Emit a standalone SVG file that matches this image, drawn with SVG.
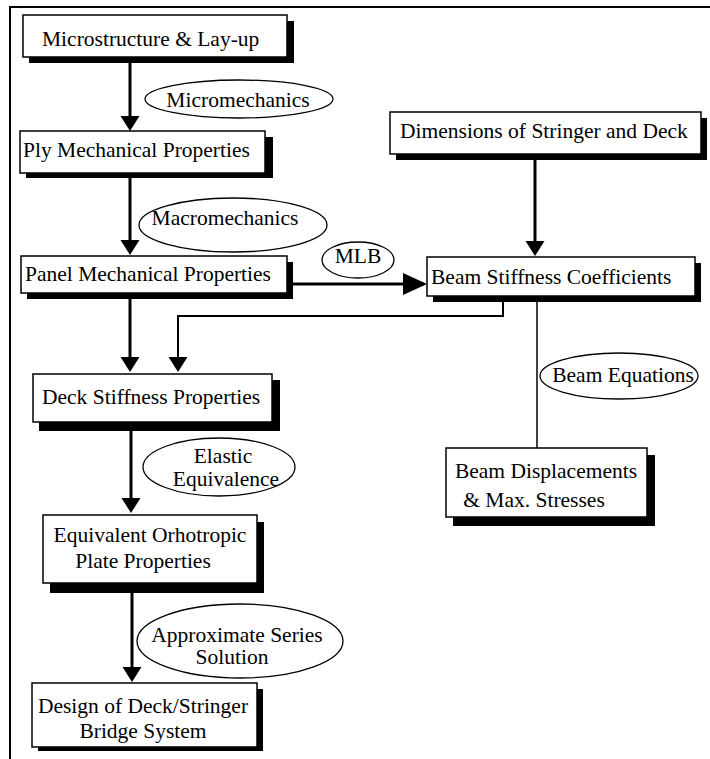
<svg xmlns="http://www.w3.org/2000/svg" width="710" height="759" viewBox="0 0 710 759">
<style>
.bg{fill:#fff}
.sh{fill:#000}
.bx{fill:#fff;stroke:#000;stroke-width:1.5}
.el{fill:#fff;stroke:#000;stroke-width:1.3}
text{font-family:'Liberation Serif','DejaVu Serif',serif;font-size:21.5px;fill:#000}
.c{text-anchor:middle}
.ln{fill:none;stroke:#000;stroke-width:3}
.thin{fill:none;stroke:#000;stroke-width:2}
</style>
<defs>
<marker id="ah" markerUnits="userSpaceOnUse" markerWidth="16" markerHeight="20" refX="12" refY="9.5" orient="auto">
<path d="M0,0 L15,9.5 L0,19 z" fill="#000"/>
</marker>
<marker id="ahb" markerUnits="userSpaceOnUse" markerWidth="25" markerHeight="24" refX="21" refY="11" orient="auto">
<path d="M0,0 L24,11 L0,22 z" fill="#000"/>
</marker>
</defs>
<rect class="bg" x="0" y="0" width="710" height="759"/>
<path d="M10,759 V7 H710" fill="none" stroke="#000" stroke-width="2"/>

<g id="connectors">
<path class="ln" d="M130,58 V128" marker-end="url(#ah)"/>
<path class="ln" d="M130,173 V252" marker-end="url(#ah)"/>
<path class="ln" d="M130,293 V369" marker-end="url(#ah)"/>
<path class="ln" d="M293,284 H424" marker-end="url(#ahb)"/>
<path class="ln" d="M535,154 V253" marker-end="url(#ah)"/>
<path class="thin" d="M503,296 V316 H178 V369" marker-end="url(#ah)"/>
<path d="M537,296 V448" fill="none" stroke="#000" stroke-width="1.5"/>
<path class="ln" d="M131,422 V510" marker-end="url(#ah)"/>
<path class="ln" d="M132,583 V679" marker-end="url(#ah)"/>
</g>

<g font-family="Liberation Serif, DejaVu Serif, serif">
<g id="n-micro">
<rect class="sh" x="29" y="21" width="265" height="42"/>
<rect class="bx" x="23" y="15" width="264" height="42"/>
<text x="42" y="46">Microstructure &amp; Lay-up</text>
</g>
<g id="e-micromechanics">
<ellipse class="el" cx="239" cy="99" rx="94" ry="19"/>
<text class="c" x="238" y="107">Micromechanics</text>
</g>
<g id="n-ply">
<rect class="sh" x="26" y="137" width="247" height="41"/>
<rect class="bx" x="20" y="131" width="245" height="42"/>
<text x="23" y="157">Ply Mechanical Properties</text>
</g>
<g id="e-macromechanics">
<ellipse class="el" cx="233" cy="225" rx="94" ry="27"/>
<text class="c" x="225" y="225">Macromechanics</text>
</g>
<g id="n-panel">
<rect class="sh" x="27" y="262" width="266" height="37"/>
<rect class="bx" x="21" y="256" width="266" height="37"/>
<text x="25" y="281">Panel Mechanical Properties</text>
</g>
<g id="e-mlb">
<ellipse class="el" cx="358" cy="260" rx="36" ry="18"/>
<text class="c" x="358" y="263">MLB</text>
</g>
<g id="n-dimensions">
<rect class="sh" x="396" y="118" width="311" height="42"/>
<rect class="bx" x="390" y="112" width="311" height="42"/>
<text x="400" y="138">Dimensions of Stringer and Deck</text>
</g>
<g id="n-beamstiff">
<rect class="sh" x="433" y="263" width="268" height="39"/>
<rect class="bx" x="427" y="257" width="268" height="39"/>
<text x="431" y="284">Beam Stiffness Coefficients</text>
</g>
<g id="n-deck">
<rect class="sh" x="39" y="380" width="241" height="51"/>
<rect class="bx" x="33" y="374" width="239" height="48"/>
<text x="42" y="404">Deck Stiffness Properties</text>
</g>
<g id="e-beameq">
<ellipse class="el" cx="619" cy="376" rx="79" ry="23"/>
<text class="c" x="623" y="382">Beam Equations</text>
</g>
<g id="n-beamdisp">
<rect class="sh" x="453" y="455" width="202" height="71"/>
<rect class="bx" x="446" y="448" width="201" height="69"/>
<text class="c" x="546" y="478">Beam Displacements</text>
<text class="c" x="534" y="507">&amp; Max. Stresses</text>
</g>
<g id="e-elastic">
<ellipse class="el" cx="219" cy="467" rx="76" ry="29"/>
<text class="c" x="223" y="463">Elastic</text>
<text class="c" x="226" y="486">Equivalence</text>
</g>
<g id="n-equiv">
<rect class="sh" x="50" y="522" width="214" height="71"/>
<rect class="bx" x="43" y="515" width="214" height="68"/>
<text class="c" x="150" y="542">Equivalent Orhotropic</text>
<text class="c" x="143" y="568">Plate Properties</text>
</g>
<g id="e-approx">
<ellipse class="el" cx="240" cy="641" rx="103" ry="37"/>
<text class="c" x="237" y="642">Approximate Series</text>
<text class="c" x="232" y="664">Solution</text>
</g>
<g id="n-design">
<rect class="sh" x="38" y="689" width="225" height="62"/>
<rect class="bx" x="32" y="683" width="225" height="64"/>
<text class="c" x="143" y="713">Design of Deck/Stringer</text>
<text class="c" x="143" y="738">Bridge System</text>
</g>
</g>
</svg>
